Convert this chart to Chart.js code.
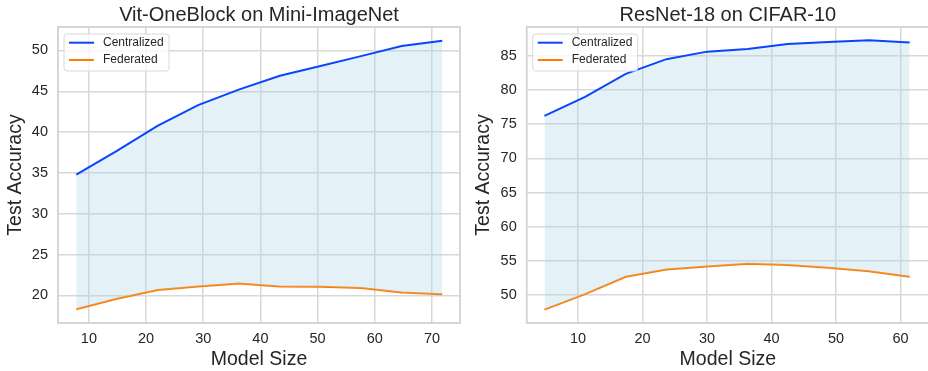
<!DOCTYPE html>
<html>
<head>
<meta charset="utf-8">
<script src="https://cdn.jsdelivr.net/npm/chart.js@4.4.0/dist/chart.umd.min.js"></script>
<style>
  body { margin: 0; background: #fff; overflow: hidden; width: 928px; height: 371px; position: relative; }
  canvas { position: absolute; top: 0; }
  #vit-chart { left: 0; }
  #resnet-chart { left: 464px; }
</style>
</head>
<body>
<canvas id="vit-chart" width="464" height="371"></canvas>
<canvas id="resnet-chart" width="466" height="371"></canvas>
<script>
// Vit-OneBlock on Mini-ImageNet
const vitSizes = [7.8, 14.9, 22.0, 29.1, 36.2, 43.4, 50.5, 57.6, 64.7, 71.8];
const vitCentralized = [34.8, 37.7, 40.75, 43.3, 45.2, 46.9, 48.1, 49.3, 50.55, 51.2];
const vitFederated = [18.3, 19.6, 20.65, 21.1, 21.45, 21.1, 21.05, 20.9, 20.35, 20.15];
const vitXTicks = [10, 20, 30, 40, 50, 60, 70];
const vitYTicks = [20, 25, 30, 35, 40, 45, 50];
const vitXRange = [4.6, 74.9];
const vitYRange = [16.62, 52.87];

// ResNet-18 on CIFAR-10
const resnetSizes = [4.8, 11.1, 17.4, 23.7, 30.0, 36.3, 42.5, 48.8, 55.1, 61.4];
const resnetCentralized = [76.2, 79.0, 82.35, 84.5, 85.6, 85.97, 86.7, 87.0, 87.25, 86.95];
const resnetFederated = [47.9, 50.15, 52.7, 53.75, 54.2, 54.6, 54.4, 54.0, 53.5, 52.7];
const resnetXTicks = [10, 20, 30, 40, 50, 60];
const resnetYTicks = [50, 55, 60, 65, 70, 75, 80, 85];
const resnetXRange = [2.05, 64.4];
const resnetYRange = [45.94, 89.2];

const seriesNames = ["Centralized", "Federated"];
const blue = "#0a44ff";
const orange = "#ff7c00";
const textColor = "#262626";
const gridColor = "#d8d8d8";
const spineColor = "#d2d2d2";
const fontFamily = "'Liberation Sans', Arial, sans-serif";

Chart.defaults.font.family = fontFamily;
Chart.defaults.color = textColor;

// Title over the plot area, the top/right spines and the boxed legend
const framePlugin = {
  id: "frame",
  afterDatasetsDraw(chart, args, opts) {
    const { ctx, chartArea: a } = chart;
    ctx.save();
    ctx.strokeStyle = spineColor;
    ctx.lineWidth = 1.8;
    ctx.strokeRect(a.left, a.top, a.right - a.left, a.bottom - a.top);

    ctx.fillStyle = textColor;
    ctx.font = "20px " + fontFamily;
    ctx.textAlign = "center";
    ctx.textBaseline = "alphabetic";
    ctx.fillText(opts.text, (a.left + a.right) / 2, a.top - 6);

    // legend box
    const bx = a.left + 6, by = a.top + 7, bw = 105, bh = 37;
    ctx.beginPath();
    ctx.roundRect(bx, by, bw, bh, 3);
    ctx.fillStyle = "rgba(255,255,255,0.8)";
    ctx.fill();
    ctx.strokeStyle = "#d9d9d9";
    ctx.lineWidth = 1;
    ctx.stroke();

    ctx.font = "12px " + fontFamily;
    ctx.textBaseline = "middle";
    ctx.textAlign = "left";
    chart.data.datasets.forEach((ds, i) => {
      const y = by + 8.7 + i * 17.3;
      ctx.beginPath();
      ctx.moveTo(bx + 5, y);
      ctx.lineTo(bx + 30, y);
      ctx.strokeStyle = ds.borderColor;
      ctx.lineWidth = 2;
      ctx.stroke();
      ctx.fillStyle = textColor;
      ctx.fillText(ds.label, bx + 39, y);
    });
    ctx.restore();
  },
};

function makeChart(id, title, sizes, central, fed, xRange, yRange, xTicks, yTicks, yAxisWidth, yTitlePad, padRight) {
  const ctx = document.getElementById(id);
  return new Chart(ctx, {
    type: "line",
    data: {
      datasets: [
        {
          label: seriesNames[0],
          data: sizes.map((s, i) => ({ x: s, y: central[i] })),
          borderColor: blue,
          backgroundColor: "rgba(173, 216, 230, 0.33)",
          borderWidth: 2,
          pointRadius: 0,
          fill: "+1",
        },
        {
          label: seriesNames[1],
          data: sizes.map((s, i) => ({ x: s, y: fed[i] })),
          borderColor: orange,
          borderWidth: 2,
          pointRadius: 0,
          fill: false,
        },
      ],
    },
    options: {
      responsive: false,
      animation: false,
      layout: { padding: { left: 0, right: padRight, top: 27, bottom: 0 } },
      plugins: {
        legend: { display: false },
        tooltip: { enabled: false },
        title: { display: false },
        frame: { text: title },
      },
      scales: {
        x: {
          type: "linear",
          min: xRange[0],
          max: xRange[1],
          afterBuildTicks: (scale) => {
            scale.ticks = xTicks.map((v) => ({ value: v }));
          },
          afterFit: (scale) => {
            scale.height = 48;
          },
          ticks: { font: { size: 14.5 }, padding: 7, color: textColor, maxRotation: 0 },
          grid: { color: gridColor, lineWidth: 1.5, drawTicks: false },
          border: { display: false },
          title: {
            display: true,
            text: "Model Size",
            color: textColor,
            font: { size: 19.5 },
            padding: { top: 0, bottom: 0 },
          },
        },
        y: {
          min: yRange[0],
          max: yRange[1],
          afterBuildTicks: (scale) => {
            scale.ticks = yTicks.map((v) => ({ value: v }));
          },
          afterFit: (scale) => {
            scale.width = yAxisWidth;
          },
          ticks: { font: { size: 14.5 }, padding: 10, color: textColor },
          grid: { color: gridColor, lineWidth: 1.5, drawTicks: false },
          border: { display: false },
          title: {
            display: true,
            text: "Test Accuracy",
            color: textColor,
            font: { size: 19.5 },
            padding: { top: yTitlePad, bottom: 0 },
          },
        },
      },
    },
    plugins: [framePlugin],
  });
}

makeChart("vit-chart", "Vit-OneBlock on Mini-ImageNet", vitSizes, vitCentralized, vitFederated,
  vitXRange, vitYRange, vitXTicks, vitYTicks, 58, 4, 4);
makeChart("resnet-chart", "ResNet-18 on CIFAR-10", resnetSizes, resnetCentralized, resnetFederated,
  resnetXRange, resnetYRange, resnetXTicks, resnetYTicks, 62.7, 8, 1);
</script>
</body>
</html>
